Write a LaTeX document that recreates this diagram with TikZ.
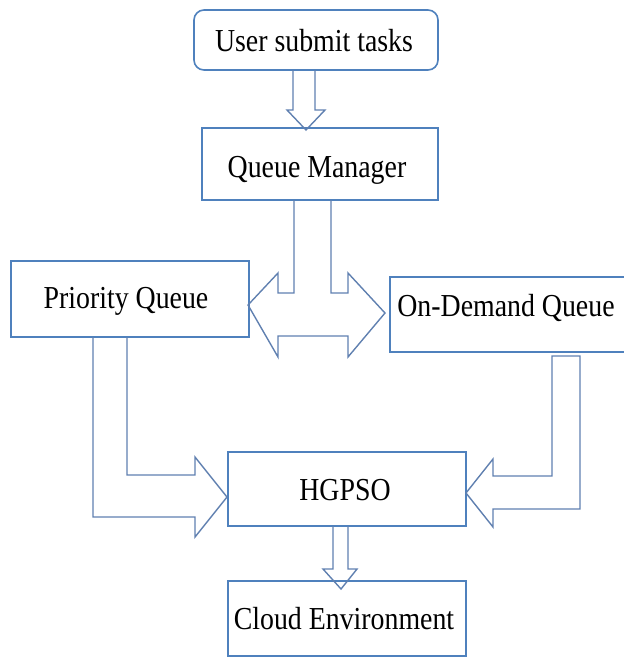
\documentclass[tikz,border=0pt]{standalone}
\usepackage{fontspec}
\setmainfont{Liberation Serif}[FakeStretch=0.87]
\definecolor{boxblue}{RGB}{79,129,189}
\definecolor{arrowblue}{RGB}{96,128,176}
\begin{document}
\begin{tikzpicture}[x=1pt,y=-1pt,
  box/.style={draw=boxblue,line width=1.6pt,inner sep=0pt,outer sep=0pt},
  lbl/.style={anchor=base,inner sep=0pt,font=\fontsize{32}{36}\selectfont},
  blockarrow/.style={draw=arrowblue,line width=1.4pt,line join=miter}]
\useasboundingbox (0,0) rectangle (624,657);

% boxes
\node[box,rounded corners=10pt,minimum width=244pt,minimum height=60pt] (ust) at (316,40) {};
\node[box,minimum width=236pt,minimum height=72pt] (qm) at (320,164) {};
\node[box,minimum width=238pt,minimum height=76pt] (pq) at (130,299) {};
\node[box,minimum width=236pt,minimum height=75pt] (odq) at (508,314.5) {};
\node[box,minimum width=238pt,minimum height=74pt] (hg) at (347,489) {};
\node[box,minimum width=238pt,minimum height=75pt] (ce) at (347,618.5) {};

% labels
\node[lbl] (ustt) at (314,51) {User submit tasks};
\node[lbl] (qmt) at (317,177) {Queue Manager};
\node[lbl] (pqt) at (126,308) {Priority Queue};
\node[lbl] (odqt) at (506,316) {On-Demand Queue};
\node[lbl] (hgt) at (345,500) {HGPSO};
\node[lbl] (cet) at (344,629) {Cloud Environment};

% user submit tasks -> queue manager
\draw[blockarrow] (293,70) -- (293,110) -- (287,110) -- (306,130)
  -- (325,110) -- (315,110) -- (315,70);

% queue manager -> priority queue / on-demand queue
\draw[blockarrow] (294,200) -- (294,293) -- (278,293) -- (278,273)
  -- (248,305) -- (278,357) -- (278,336) -- (348,336) -- (348,357)
  -- (385,313) -- (348,273) -- (348,293) -- (331,293) -- (331,200);

% priority queue -> HGPSO
\draw[blockarrow] (127,337) -- (127,475) -- (195,475) -- (195,457)
  -- (227,497) -- (195,537) -- (195,517) -- (93,517) -- (93,337);

% on-demand queue -> HGPSO
\draw[blockarrow] (552,356) -- (580,356) -- (580,509) -- (493,509)
  -- (493,527) -- (466,493) -- (493,459) -- (493,476) -- (552,476) -- cycle;

% HGPSO -> cloud environment
\draw[blockarrow] (333,526) -- (333,569) -- (323,569) -- (341,589)
  -- (357,569) -- (348,569) -- (348,526);
\end{tikzpicture}
\end{document}
